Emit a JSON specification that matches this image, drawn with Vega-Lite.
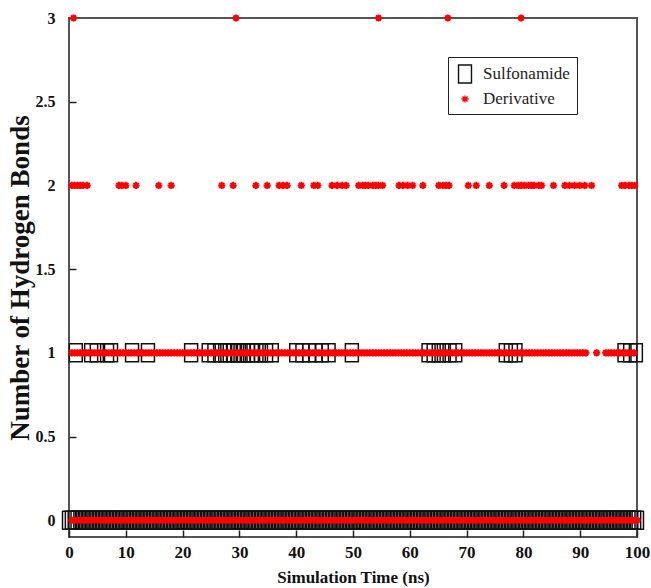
{
"$schema": "https://vega.github.io/schema/vega-lite/v6.json",
"width": 568, "height": 519,
"autosize": {"type": "none"},
"padding": {"left": 69, "top": 18, "right": 14, "bottom": 51},
"background": "white",
"config": {"view": {"stroke": "#555", "strokeWidth": 2}, "font": "Liberation Serif",
 "legend": {"labelFont": "Liberation Serif", "labelFontSize": 17, "labelColor": "#222", "symbolStrokeWidth": 1.4},
 "axis": {"zindex": 1}},
"datasets": {
"sulf": [
{"t":0,"n":0},{"t":0.5,"n":0},{"t":1,"n":0},{"t":1.5,"n":0},{"t":2,"n":0},{"t":2.5,"n":0},{"t":3,"n":0},{"t":3.5,"n":0},{"t":4,"n":0},{"t":4.5,"n":0},
{"t":5,"n":0},{"t":5.5,"n":0},{"t":6,"n":0},{"t":6.5,"n":0},{"t":7,"n":0},{"t":7.5,"n":0},{"t":8,"n":0},{"t":8.5,"n":0},{"t":9,"n":0},{"t":9.5,"n":0},
{"t":10,"n":0},{"t":10.5,"n":0},{"t":11,"n":0},{"t":11.5,"n":0},{"t":12,"n":0},{"t":12.5,"n":0},{"t":13,"n":0},{"t":13.5,"n":0},{"t":14,"n":0},{"t":14.5,"n":0},
{"t":15,"n":0},{"t":15.5,"n":0},{"t":16,"n":0},{"t":16.5,"n":0},{"t":17,"n":0},{"t":17.5,"n":0},{"t":18,"n":0},{"t":18.5,"n":0},{"t":19,"n":0},{"t":19.5,"n":0},
{"t":20,"n":0},{"t":20.5,"n":0},{"t":21,"n":0},{"t":21.5,"n":0},{"t":22,"n":0},{"t":22.5,"n":0},{"t":23,"n":0},{"t":23.5,"n":0},{"t":24,"n":0},{"t":24.5,"n":0},
{"t":25,"n":0},{"t":25.5,"n":0},{"t":26,"n":0},{"t":26.5,"n":0},{"t":27,"n":0},{"t":27.5,"n":0},{"t":28,"n":0},{"t":28.5,"n":0},{"t":29,"n":0},{"t":29.5,"n":0},
{"t":30,"n":0},{"t":30.5,"n":0},{"t":31,"n":0},{"t":31.5,"n":0},{"t":32,"n":0},{"t":32.5,"n":0},{"t":33,"n":0},{"t":33.5,"n":0},{"t":34,"n":0},{"t":34.5,"n":0},
{"t":35,"n":0},{"t":35.5,"n":0},{"t":36,"n":0},{"t":36.5,"n":0},{"t":37,"n":0},{"t":37.5,"n":0},{"t":38,"n":0},{"t":38.5,"n":0},{"t":39,"n":0},{"t":39.5,"n":0},
{"t":40,"n":0},{"t":40.5,"n":0},{"t":41,"n":0},{"t":41.5,"n":0},{"t":42,"n":0},{"t":42.5,"n":0},{"t":43,"n":0},{"t":43.5,"n":0},{"t":44,"n":0},{"t":44.5,"n":0},
{"t":45,"n":0},{"t":45.5,"n":0},{"t":46,"n":0},{"t":46.5,"n":0},{"t":47,"n":0},{"t":47.5,"n":0},{"t":48,"n":0},{"t":48.5,"n":0},{"t":49,"n":0},{"t":49.5,"n":0},
{"t":50,"n":0},{"t":50.5,"n":0},{"t":51,"n":0},{"t":51.5,"n":0},{"t":52,"n":0},{"t":52.5,"n":0},{"t":53,"n":0},{"t":53.5,"n":0},{"t":54,"n":0},{"t":54.5,"n":0},
{"t":55,"n":0},{"t":55.5,"n":0},{"t":56,"n":0},{"t":56.5,"n":0},{"t":57,"n":0},{"t":57.5,"n":0},{"t":58,"n":0},{"t":58.5,"n":0},{"t":59,"n":0},{"t":59.5,"n":0},
{"t":60,"n":0},{"t":60.5,"n":0},{"t":61,"n":0},{"t":61.5,"n":0},{"t":62,"n":0},{"t":62.5,"n":0},{"t":63,"n":0},{"t":63.5,"n":0},{"t":64,"n":0},{"t":64.5,"n":0},
{"t":65,"n":0},{"t":65.5,"n":0},{"t":66,"n":0},{"t":66.5,"n":0},{"t":67,"n":0},{"t":67.5,"n":0},{"t":68,"n":0},{"t":68.5,"n":0},{"t":69,"n":0},{"t":69.5,"n":0},
{"t":70,"n":0},{"t":70.5,"n":0},{"t":71,"n":0},{"t":71.5,"n":0},{"t":72,"n":0},{"t":72.5,"n":0},{"t":73,"n":0},{"t":73.5,"n":0},{"t":74,"n":0},{"t":74.5,"n":0},
{"t":75,"n":0},{"t":75.5,"n":0},{"t":76,"n":0},{"t":76.5,"n":0},{"t":77,"n":0},{"t":77.5,"n":0},{"t":78,"n":0},{"t":78.5,"n":0},{"t":79,"n":0},{"t":79.5,"n":0},
{"t":80,"n":0},{"t":80.5,"n":0},{"t":81,"n":0},{"t":81.5,"n":0},{"t":82,"n":0},{"t":82.5,"n":0},{"t":83,"n":0},{"t":83.5,"n":0},{"t":84,"n":0},{"t":84.5,"n":0},
{"t":85,"n":0},{"t":85.5,"n":0},{"t":86,"n":0},{"t":86.5,"n":0},{"t":87,"n":0},{"t":87.5,"n":0},{"t":88,"n":0},{"t":88.5,"n":0},{"t":89,"n":0},{"t":89.5,"n":0},
{"t":90,"n":0},{"t":90.5,"n":0},{"t":91,"n":0},{"t":91.5,"n":0},{"t":92,"n":0},{"t":92.5,"n":0},{"t":93,"n":0},{"t":93.5,"n":0},{"t":94,"n":0},{"t":94.5,"n":0},
{"t":95,"n":0},{"t":95.5,"n":0},{"t":96,"n":0},{"t":96.5,"n":0},{"t":97,"n":0},{"t":97.5,"n":0},{"t":98,"n":0},{"t":98.5,"n":0},{"t":99,"n":0},{"t":99.5,"n":0},
{"t":100,"n":0},
{"t":1.2,"n":1},{"t":3.9,"n":1},{"t":4.9,"n":1},{"t":6.7,"n":1},{"t":7.4,"n":1},{"t":11.1,"n":1},{"t":13.9,"n":1},{"t":21.5,"n":1},{"t":24.6,"n":1},{"t":25.6,"n":1},
{"t":26.6,"n":1},{"t":27.5,"n":1},{"t":28.3,"n":1},{"t":29.0,"n":1},{"t":29.6,"n":1},{"t":30.2,"n":1},{"t":30.8,"n":1},{"t":31.5,"n":1},{"t":32.2,"n":1},{"t":33.0,"n":1},
{"t":33.8,"n":1},{"t":34.7,"n":1},{"t":35.7,"n":1},{"t":40.0,"n":1},{"t":41.1,"n":1},{"t":42.3,"n":1},{"t":43.4,"n":1},{"t":44.5,"n":1},{"t":45.7,"n":1},{"t":49.8,"n":1},
{"t":63.3,"n":1},{"t":64.2,"n":1},{"t":65.1,"n":1},{"t":66.0,"n":1},{"t":67.0,"n":1},{"t":68.0,"n":1},{"t":76.9,"n":1},{"t":77.8,"n":1},{"t":78.6,"n":1},{"t":97.8,"n":1},
{"t":98.8,"n":1},{"t":99.8,"n":1}
],
"deriv": [
{"t":0.5,"n":0},{"t":1,"n":0},{"t":1.5,"n":0},{"t":2,"n":0},{"t":2.5,"n":0},{"t":3,"n":0},{"t":3.5,"n":0},{"t":4,"n":0},{"t":4.5,"n":0},
{"t":5,"n":0},{"t":5.5,"n":0},{"t":6,"n":0},{"t":6.5,"n":0},{"t":7,"n":0},{"t":7.5,"n":0},{"t":8,"n":0},{"t":8.5,"n":0},{"t":9,"n":0},{"t":9.5,"n":0},
{"t":10,"n":0},{"t":10.5,"n":0},{"t":11,"n":0},{"t":11.5,"n":0},{"t":12,"n":0},{"t":12.5,"n":0},{"t":13,"n":0},{"t":13.5,"n":0},{"t":14,"n":0},{"t":14.5,"n":0},
{"t":15,"n":0},{"t":15.5,"n":0},{"t":16,"n":0},{"t":16.5,"n":0},{"t":17,"n":0},{"t":17.5,"n":0},{"t":18,"n":0},{"t":18.5,"n":0},{"t":19,"n":0},{"t":19.5,"n":0},
{"t":20,"n":0},{"t":20.5,"n":0},{"t":21,"n":0},{"t":21.5,"n":0},{"t":22,"n":0},{"t":22.5,"n":0},{"t":23,"n":0},{"t":23.5,"n":0},{"t":24,"n":0},{"t":24.5,"n":0},
{"t":25,"n":0},{"t":25.5,"n":0},{"t":26,"n":0},{"t":26.5,"n":0},{"t":27,"n":0},{"t":27.5,"n":0},{"t":28,"n":0},{"t":28.5,"n":0},{"t":29,"n":0},{"t":29.5,"n":0},
{"t":30,"n":0},{"t":30.5,"n":0},{"t":31,"n":0},{"t":31.5,"n":0},{"t":32,"n":0},{"t":32.5,"n":0},{"t":33,"n":0},{"t":33.5,"n":0},{"t":34,"n":0},{"t":34.5,"n":0},
{"t":35,"n":0},{"t":35.5,"n":0},{"t":36,"n":0},{"t":36.5,"n":0},{"t":37,"n":0},{"t":37.5,"n":0},{"t":38,"n":0},{"t":38.5,"n":0},{"t":39,"n":0},{"t":39.5,"n":0},
{"t":40,"n":0},{"t":40.5,"n":0},{"t":41,"n":0},{"t":41.5,"n":0},{"t":42,"n":0},{"t":42.5,"n":0},{"t":43,"n":0},{"t":43.5,"n":0},{"t":44,"n":0},{"t":44.5,"n":0},
{"t":45,"n":0},{"t":45.5,"n":0},{"t":46,"n":0},{"t":46.5,"n":0},{"t":47,"n":0},{"t":47.5,"n":0},{"t":48,"n":0},{"t":48.5,"n":0},{"t":49,"n":0},{"t":49.5,"n":0},
{"t":50,"n":0},{"t":50.5,"n":0},{"t":51,"n":0},{"t":51.5,"n":0},{"t":52,"n":0},{"t":52.5,"n":0},{"t":53,"n":0},{"t":53.5,"n":0},{"t":54,"n":0},{"t":54.5,"n":0},
{"t":55,"n":0},{"t":55.5,"n":0},{"t":56,"n":0},{"t":56.5,"n":0},{"t":57,"n":0},{"t":57.5,"n":0},{"t":58,"n":0},{"t":58.5,"n":0},{"t":59,"n":0},{"t":59.5,"n":0},
{"t":60,"n":0},{"t":60.5,"n":0},{"t":61,"n":0},{"t":61.5,"n":0},{"t":62,"n":0},{"t":62.5,"n":0},{"t":63,"n":0},{"t":63.5,"n":0},{"t":64,"n":0},{"t":64.5,"n":0},
{"t":65,"n":0},{"t":65.5,"n":0},{"t":66,"n":0},{"t":66.5,"n":0},{"t":67,"n":0},{"t":67.5,"n":0},{"t":68,"n":0},{"t":68.5,"n":0},{"t":69,"n":0},{"t":69.5,"n":0},
{"t":70,"n":0},{"t":70.5,"n":0},{"t":71,"n":0},{"t":71.5,"n":0},{"t":72,"n":0},{"t":72.5,"n":0},{"t":73,"n":0},{"t":73.5,"n":0},{"t":74,"n":0},{"t":74.5,"n":0},
{"t":75,"n":0},{"t":75.5,"n":0},{"t":76,"n":0},{"t":76.5,"n":0},{"t":77,"n":0},{"t":77.5,"n":0},{"t":78,"n":0},{"t":78.5,"n":0},{"t":79,"n":0},{"t":79.5,"n":0},
{"t":80,"n":0},{"t":80.5,"n":0},{"t":81,"n":0},{"t":81.5,"n":0},{"t":82,"n":0},{"t":82.5,"n":0},{"t":83,"n":0},{"t":83.5,"n":0},{"t":84,"n":0},{"t":84.5,"n":0},
{"t":85,"n":0},{"t":85.5,"n":0},{"t":86,"n":0},{"t":86.5,"n":0},{"t":87,"n":0},{"t":87.5,"n":0},{"t":88,"n":0},{"t":88.5,"n":0},{"t":89,"n":0},{"t":89.5,"n":0},
{"t":90,"n":0},{"t":90.5,"n":0},{"t":91,"n":0},{"t":91.5,"n":0},{"t":92,"n":0},{"t":92.5,"n":0},{"t":93,"n":0},{"t":93.5,"n":0},{"t":94,"n":0},{"t":94.5,"n":0},
{"t":95,"n":0},{"t":95.5,"n":0},{"t":96,"n":0},{"t":96.5,"n":0},{"t":97,"n":0},{"t":97.5,"n":0},{"t":98,"n":0},{"t":98.5,"n":0},{"t":99,"n":0},{"t":99.5,"n":0},
{"t":100,"n":0},
{"t":0.5,"n":1},{"t":1,"n":1},{"t":1.5,"n":1},{"t":2,"n":1},{"t":2.5,"n":1},{"t":3,"n":1},{"t":3.5,"n":1},{"t":4,"n":1},{"t":4.5,"n":1},
{"t":5,"n":1},{"t":5.5,"n":1},{"t":6,"n":1},{"t":6.5,"n":1},{"t":7,"n":1},{"t":7.5,"n":1},{"t":8,"n":1},{"t":8.5,"n":1},{"t":9,"n":1},{"t":9.5,"n":1},
{"t":10,"n":1},{"t":10.5,"n":1},{"t":11,"n":1},{"t":11.5,"n":1},{"t":12,"n":1},{"t":12.5,"n":1},{"t":13,"n":1},{"t":13.5,"n":1},{"t":14,"n":1},{"t":14.5,"n":1},
{"t":15,"n":1},{"t":15.5,"n":1},{"t":16,"n":1},{"t":16.5,"n":1},{"t":17,"n":1},{"t":17.5,"n":1},{"t":18,"n":1},{"t":18.5,"n":1},{"t":19,"n":1},{"t":19.5,"n":1},
{"t":20,"n":1},{"t":20.5,"n":1},{"t":21,"n":1},{"t":21.5,"n":1},{"t":22,"n":1},{"t":22.5,"n":1},{"t":23,"n":1},{"t":23.5,"n":1},{"t":24,"n":1},{"t":24.5,"n":1},
{"t":25,"n":1},{"t":25.5,"n":1},{"t":26,"n":1},{"t":26.5,"n":1},{"t":27,"n":1},{"t":27.5,"n":1},{"t":28,"n":1},{"t":28.5,"n":1},{"t":29,"n":1},{"t":29.5,"n":1},
{"t":30,"n":1},{"t":30.5,"n":1},{"t":31,"n":1},{"t":31.5,"n":1},{"t":32,"n":1},{"t":32.5,"n":1},{"t":33,"n":1},{"t":33.5,"n":1},{"t":34,"n":1},{"t":34.5,"n":1},
{"t":35,"n":1},{"t":35.5,"n":1},{"t":36,"n":1},{"t":36.5,"n":1},{"t":37,"n":1},{"t":37.5,"n":1},{"t":38,"n":1},{"t":38.5,"n":1},{"t":39,"n":1},{"t":39.5,"n":1},
{"t":40,"n":1},{"t":40.5,"n":1},{"t":41,"n":1},{"t":41.5,"n":1},{"t":42,"n":1},{"t":42.5,"n":1},{"t":43,"n":1},{"t":43.5,"n":1},{"t":44,"n":1},{"t":44.5,"n":1},
{"t":45,"n":1},{"t":45.5,"n":1},{"t":46,"n":1},{"t":46.5,"n":1},{"t":47,"n":1},{"t":47.5,"n":1},{"t":48,"n":1},{"t":48.5,"n":1},{"t":49,"n":1},{"t":49.5,"n":1},
{"t":50,"n":1},{"t":50.5,"n":1},{"t":51,"n":1},{"t":51.5,"n":1},{"t":52,"n":1},{"t":52.5,"n":1},{"t":53,"n":1},{"t":53.5,"n":1},{"t":54,"n":1},{"t":54.5,"n":1},
{"t":55,"n":1},{"t":55.5,"n":1},{"t":56,"n":1},{"t":56.5,"n":1},{"t":57,"n":1},{"t":57.5,"n":1},{"t":58,"n":1},{"t":58.5,"n":1},{"t":59,"n":1},{"t":59.5,"n":1},
{"t":60,"n":1},{"t":60.5,"n":1},{"t":61,"n":1},{"t":61.5,"n":1},{"t":62,"n":1},{"t":62.5,"n":1},{"t":63,"n":1},{"t":63.5,"n":1},{"t":64,"n":1},{"t":64.5,"n":1},
{"t":65,"n":1},{"t":65.5,"n":1},{"t":66,"n":1},{"t":66.5,"n":1},{"t":67,"n":1},{"t":67.5,"n":1},{"t":68,"n":1},{"t":68.5,"n":1},{"t":69,"n":1},{"t":69.5,"n":1},
{"t":70,"n":1},{"t":70.5,"n":1},{"t":71,"n":1},{"t":71.5,"n":1},{"t":72,"n":1},{"t":72.5,"n":1},{"t":73,"n":1},{"t":73.5,"n":1},{"t":74,"n":1},{"t":74.5,"n":1},
{"t":75,"n":1},{"t":75.5,"n":1},{"t":76,"n":1},{"t":76.5,"n":1},{"t":77,"n":1},{"t":77.5,"n":1},{"t":78,"n":1},{"t":78.5,"n":1},{"t":79,"n":1},{"t":79.5,"n":1},
{"t":80,"n":1},{"t":80.5,"n":1},{"t":81,"n":1},{"t":81.5,"n":1},{"t":82,"n":1},{"t":82.5,"n":1},{"t":83,"n":1},{"t":83.5,"n":1},{"t":84,"n":1},{"t":84.5,"n":1},
{"t":85,"n":1},{"t":85.5,"n":1},{"t":86,"n":1},{"t":86.5,"n":1},{"t":87,"n":1},{"t":87.5,"n":1},{"t":88,"n":1},{"t":88.5,"n":1},{"t":89,"n":1},{"t":89.5,"n":1},
{"t":90,"n":1},{"t":90.5,"n":1},{"t":91,"n":1},{"t":92.9,"n":1},{"t":94.5,"n":1},
{"t":95,"n":1},{"t":95.5,"n":1},{"t":96,"n":1},{"t":96.5,"n":1},{"t":97,"n":1},{"t":97.5,"n":1},{"t":98,"n":1},{"t":98.5,"n":1},{"t":99,"n":1},{"t":99.5,"n":1},
{"t":0.5,"n":2},{"t":1.0,"n":2},{"t":1.5,"n":2},{"t":2.0,"n":2},{"t":2.5,"n":2},{"t":3.2,"n":2},{"t":8.8,"n":2},{"t":9.3,"n":2},{"t":10.0,"n":2},{"t":11.8,"n":2},
{"t":15.8,"n":2},{"t":18.0,"n":2},{"t":26.9,"n":2},{"t":28.9,"n":2},{"t":32.9,"n":2},{"t":34.9,"n":2},{"t":37.0,"n":2},{"t":37.7,"n":2},{"t":38.4,"n":2},{"t":40.9,"n":2},
{"t":43.1,"n":2},{"t":43.8,"n":2},{"t":46.3,"n":2},{"t":47.2,"n":2},{"t":48.1,"n":2},{"t":48.8,"n":2},{"t":51.0,"n":2},{"t":51.7,"n":2},{"t":52.2,"n":2},{"t":52.7,"n":2},
{"t":53.5,"n":2},{"t":54.0,"n":2},{"t":54.5,"n":2},{"t":55.2,"n":2},{"t":58.1,"n":2},{"t":58.8,"n":2},{"t":59.6,"n":2},{"t":60.5,"n":2},{"t":62.3,"n":2},{"t":65.1,"n":2},
{"t":65.8,"n":2},{"t":66.4,"n":2},{"t":66.9,"n":2},{"t":70.3,"n":2},{"t":71.7,"n":2},{"t":74.0,"n":2},{"t":76.6,"n":2},{"t":78.4,"n":2},{"t":79.1,"n":2},{"t":79.6,"n":2},
{"t":80.2,"n":2},{"t":80.9,"n":2},{"t":81.4,"n":2},{"t":81.9,"n":2},{"t":82.7,"n":2},{"t":83.2,"n":2},{"t":85.3,"n":2},{"t":87.3,"n":2},{"t":88.1,"n":2},{"t":89.0,"n":2},
{"t":89.9,"n":2},{"t":90.8,"n":2},{"t":92.0,"n":2},{"t":97.3,"n":2},{"t":97.9,"n":2},{"t":98.6,"n":2},{"t":99.1,"n":2},{"t":99.6,"n":2},
{"t":0.8,"n":3},{"t":29.4,"n":3},{"t":54.5,"n":3},{"t":66.7,"n":3},{"t":79.6,"n":3}
]
},
"layer": [
{
"data": {"name": "sulf"},
"mark": {"type": "point", "filled": false, "size": 324, "strokeWidth": 1.5, "opacity": 1},
"encoding": {
"x": {"field": "t", "type": "quantitative",
 "scale": {"domain": [0, 100], "nice": false, "zero": false},
 "axis": {"values": [0,5,10,15,20,25,30,35,40,45,50,55,60,65,70,75,80,85,90,95,100],
  "labelExpr": "datum.value % 10 === 0 ? datum.label : ''",
  "domain": false, "grid": false, "ticks": true, "offset": -7, "tickSize": 7, "tickColor": "#222", "tickWidth": 1.5,
  "labelFont": "Liberation Serif", "labelFontWeight": "bold", "labelFontSize": 17, "labelColor": "#111",
  "labelPadding": 7, "labelFlush": false, "labelOverlap": false,
  "title": "Simulation Time (ns)", "titleFont": "Liberation Serif", "titleFontWeight": "bold", "titleFontSize": 17, "titleColor": "#111", "titlePadding": 9}},
"y": {"field": "n", "type": "quantitative",
 "scale": {"domain": [-0.1, 3], "nice": false, "zero": false},
 "axis": {"values": [0,0.5,1,1.5,2,2.5,3], "format": "~g",
  "domain": false, "grid": false, "ticks": true, "offset": -7, "tickSize": 7, "tickColor": "#222", "tickWidth": 1.5,
  "labelFont": "Liberation Serif", "labelFontWeight": "bold", "labelFontSize": 16, "labelColor": "#111",
  "labelPadding": 14, "labelFlush": false, "labelOverlap": false,
  "title": "Number of Hydrogen Bonds", "titleFont": "Liberation Serif", "titleFontWeight": "bold", "titleFontSize": 27, "titleColor": "#111", "titlePadding": 1}},
"color": {"datum": "Sulfonamide", "type": "nominal",
 "scale": {"domain": ["Sulfonamide", "Derivative"], "range": ["#111111", "#ff0000"]},
 "legend": {"title": null, "orient": "none", "legendX": 379, "legendY": 39,
  "strokeColor": "#222", "fillColor": "white", "padding": 7,
  "symbolSize": 324, "symbolStrokeWidth": 1.4, "labelFont": "Liberation Serif", "labelFontSize": 17,
  "labelColor": "#222", "labelOffset": 8, "rowPadding": 3}},
"shape": {"datum": "Sulfonamide", "type": "nominal",
 "scale": {"domain": ["Sulfonamide", "Derivative"], "range": ["M-0.72,-1H0.72V1H-0.72Z", "M-0.4,0H0.4M0,-0.4V0.4M-0.28,-0.28L0.28,0.28M-0.28,0.28L0.28,-0.28"]},
 "legend": {"title": null, "orient": "none", "legendX": 379, "legendY": 39,
  "strokeColor": "#222", "fillColor": "white", "padding": 7,
  "symbolSize": 324, "symbolStrokeWidth": 1.4, "labelFont": "Liberation Serif", "labelFontSize": 17,
  "labelColor": "#222", "labelOffset": 8, "rowPadding": 3}}
}
},
{
"data": {"name": "deriv"},
"mark": {"type": "point", "filled": false, "size": 324, "strokeWidth": 2, "opacity": 1},
"encoding": {
"x": {"field": "t", "type": "quantitative"},
"y": {"field": "n", "type": "quantitative"},
"color": {"datum": "Derivative", "type": "nominal"},
"shape": {"datum": "Derivative", "type": "nominal"}
}
}
]
}
